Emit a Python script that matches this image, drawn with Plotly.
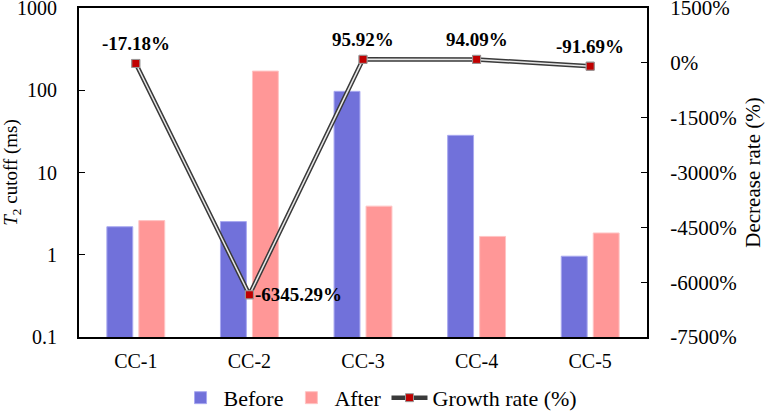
import plotly.graph_objects as go

categories = ["CC-1", "CC-2", "CC-3", "CC-4", "CC-5"]
before = [2.19, 2.53, 97, 28.3, 0.96]
after = [2.6, 171, 3.9, 1.67, 1.84]
growth = [-17.18, -6345.29, 95.92, 94.09, -91.69]
growth_labels = ["-17.18%", "-6345.29%", "95.92%", "94.09%", "-91.69%"]
label_pos = ["top", "right", "top", "top", "top"]
left_ticks = [0.1, 1, 10, 100, 1000]
left_ticktext = ["0.1", "1", "10", "100", "1000"]
right_ticks = [-7500, -6000, -4500, -3000, -1500, 0, 1500]
right_ticktext = ["-7500%", "-6000%", "-4500%", "-3000%", "-1500%", "0%", "1500%"]

FONT = "Liberation Serif"

fig = go.Figure()
fig.add_trace(go.Bar(x=categories, y=before, name="Before",
                     marker=dict(color="#7171DA", line=dict(color="#A9A9F0", width=1))))
fig.add_trace(go.Bar(x=categories, y=after, name="After",
                     marker=dict(color="#FF9797", line=dict(color="#FFC4C4", width=1))))
fig.add_trace(go.Scatter(x=categories, y=growth, yaxis="y2", name="Growth rate (%)",
                         mode="lines+markers",
                         line=dict(color="#3a3a3a", width=4.5),
                         marker=dict(symbol="square", size=8, color="#C00000",
                                     line=dict(color="#999999", width=1))))
fig.add_trace(go.Scatter(x=categories, y=growth, yaxis="y2", showlegend=False,
                         mode="lines", line=dict(color="#e8e8e8", width=1.5),
                         hoverinfo="skip"))
fig.add_trace(go.Scatter(x=categories, y=growth, yaxis="y2", showlegend=False,
                         mode="markers",
                         marker=dict(symbol="square", size=8, color="#C00000",
                                     line=dict(color="#999999", width=1))))

for c, g, t, p in zip(categories, growth, growth_labels, label_pos):
    if p == "top":
        fig.add_annotation(x=c, y=g, xref="x", yref="y2", text="<b>%s</b>" % t,
                           showarrow=False, yanchor="middle", yshift=20,
                           font=dict(family=FONT, size=19, color="black"))
    else:
        fig.add_annotation(x=c, y=g, xref="x", yref="y2", text="<b>%s</b>" % t,
                           showarrow=False, xanchor="left", xshift=4, yanchor="middle",
                           font=dict(family=FONT, size=19, color="black"))

fig.update_layout(
    width=766, height=412,
    margin=dict(l=79, r=119, t=8, b=75, autoexpand=False),
    paper_bgcolor="white", plot_bgcolor="white",
    font=dict(family=FONT, size=20, color="black"),
    barmode="group", bargap=0.437, bargroupgap=0.19,
    showlegend=True,
    legend=dict(orientation="h", x=0.53, xanchor="center", y=-0.185, yanchor="middle",
                font=dict(family=FONT, size=22), itemwidth=36,
                bgcolor="rgba(0,0,0,0)"),
    xaxis=dict(showline=True, linecolor="black", linewidth=2, mirror=True,
               ticks="", tickfont=dict(family=FONT, size=20), automargin=False,
               ticklabelstandoff=5),
    yaxis=dict(type="log", range=[-1, 3], showline=True, linecolor="black", linewidth=2,
               ticks="inside", ticklen=6, tickcolor="black", showgrid=False,
               tickvals=left_ticks, ticktext=left_ticktext,
               tickfont=dict(family=FONT, size=20), automargin=False,
               ticklabelstandoff=16, ticklabeloverflow="allow",
               title=dict(text="<i>T</i><sub>2</sub> cutoff (ms)", font=dict(family=FONT, size=19),
                          standoff=10)),
    yaxis2=dict(overlaying="y", side="right", range=[-7500, 1500],
                tickvals=right_ticks, ticktext=right_ticktext,
                showgrid=False, zeroline=False,
                showline=True, linecolor="black", linewidth=2,
                ticks="inside", ticklen=6, tickcolor="black",
                tickfont=dict(family=FONT, size=21), automargin=False,
                ticklabelstandoff=17, ticklabeloverflow="allow",
                title=dict(text="Decrease rate (%)", font=dict(family=FONT, size=21),
                           standoff=10)),
)

fig.write_html("out.html")
